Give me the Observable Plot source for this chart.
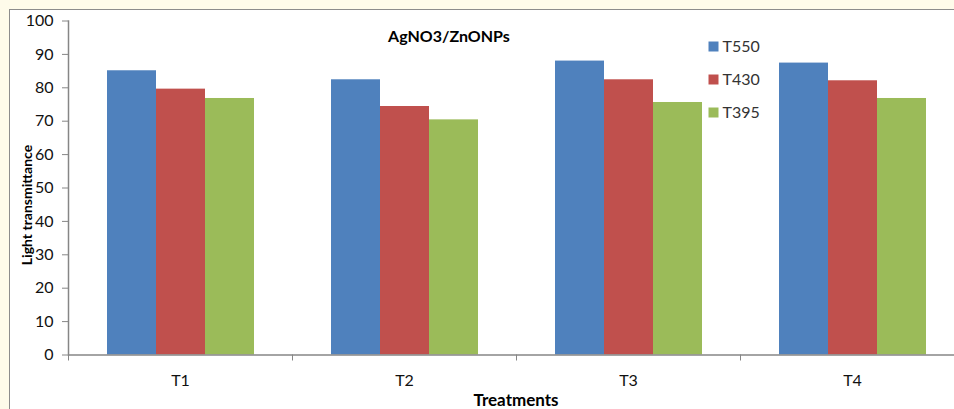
<!DOCTYPE html>
<html>
<head>
<meta charset="utf-8">
<script src="https://cdn.jsdelivr.net/npm/d3@7"></script>
<script src="https://cdn.jsdelivr.net/npm/@observablehq/plot@0.6"></script>
<style>
  html, body { margin: 0; padding: 0; background: #fefbea; }
  #page { position: relative; width: 954px; height: 409px; overflow: hidden; background: #fefbea; font-family: Lato, "Open Sans", sans-serif; }
  #panel { position: absolute; left: 9px; top: 9px; width: 1000px; height: 500px; background: #fff; border: 1px solid #8c8c8c; box-sizing: border-box; }
  #chart { position: absolute; left: 0; top: 0; width: 964px; }
  #legend { position: absolute; left: 700px; top: 0; }
  .title { position: absolute; font-weight: bold; color: #000; white-space: nowrap; }
  #title { left: 449px; top: 35px; transform: translate(-50%, -50%); font-size: 16px; }
  #xtitle { left: 516px; top: 399px; transform: translate(-50%, -50%); font-size: 17px; }
  #ytitle { left: 26px; top: 205px; transform: translate(-50%, -50%) rotate(-90deg); font-size: 14px; }
</style>
</head>
<body>
<div id="page">
  <div id="panel"></div>
  <div id="chart"></div>
  <div id="legend"></div>
  <div class="title" id="title">AgNO3/ZnONPs</div>
  <div class="title" id="xtitle">Treatments</div>
  <div class="title" id="ytitle">Light transmittance</div>
</div>
<script>
// Treatments along the x axis, wavelength series within each group
const treatments = ["T1", "T2", "T3", "T4"];
const series = ["T550", "T430", "T395"];
const seriesColors = ["#4f81bd", "#c0504d", "#9bbb59"];

// Light transmittance per series, one value per treatment
const t550 = [85.1, 82.4, 88.0, 87.4];
const t430 = [79.6, 74.4, 82.4, 82.1];
const t395 = [76.8, 70.4, 75.6, 76.8];

const yTicks = [0, 10, 20, 30, 40, 50, 60, 70, 80, 90, 100];

const valuesBySeries = {T550: t550, T430: t430, T395: t395};
const rows = treatments.flatMap((t, i) =>
  series.map(s => ({treatment: t, series: s, value: valuesBySeries[s][i]}))
);

const axisGray = "#868686";
const font = "Lato, 'Open Sans', sans-serif";

const chart = Plot.plot({
  width: 964,
  height: 409,
  marginLeft: 68,
  marginRight: 0,
  marginTop: 20.5,
  marginBottom: 54.5,
  style: {fontFamily: font, fontSize: "16px", color: "#000", background: "transparent", overflow: "visible", maxWidth: "none"},
  fx: {domain: treatments, paddingInner: 0, paddingOuter: 0, axis: null},
  x: {domain: series, paddingInner: 0, paddingOuter: 0.74, axis: null},
  y: {domain: [0, 100], axis: null},
  color: {domain: series, range: seriesColors},
  marks: [
    Plot.barY(rows, {fx: "treatment", x: "series", y: "value", fill: "series"}),
    Plot.axisY(yTicks, {anchor: "left", tickSize: 6, tickPadding: 9, stroke: axisGray, fill: "#111", label: null, fontSize: 16}),
    Plot.ruleY([0], {stroke: axisGray, strokeWidth: 1.5}),
    Plot.frame({anchor: "left", facetAnchor: "left", stroke: axisGray, strokeWidth: 1.5}),
    Plot.axisFx({anchor: "bottom", tickSize: 6, dx: -112, text: null, stroke: axisGray, label: null}),
    Plot.axisFx({anchor: "bottom", tickSize: 0, tickPadding: 20, fill: "#111", label: null, fontSize: 16})
  ]
});
document.getElementById("chart").append(chart);

// Vertical legend: colour swatch and series name
const legend = Plot.plot({
  width: 80,
  height: 130,
  marginTop: 45,
  marginBottom: 18,
  marginLeft: 8,
  marginRight: 0,
  style: {fontFamily: font, fontSize: "16px", color: "#000", background: "transparent", overflow: "visible", maxWidth: "none"},
  x: {axis: null},
  y: {type: "point", domain: series, padding: 0, axis: null},
  color: {domain: series, range: seriesColors},
  marks: [
    Plot.dot(series, {y: d => d, frameAnchor: "left", dx: 5, symbol: "square", r: 5.64, fill: d => d, stroke: null}),
    Plot.text(series, {y: d => d, frameAnchor: "left", dx: 14, textAnchor: "start", text: d => d, fill: "#333", fontSize: 16})
  ]
});
document.getElementById("legend").append(legend);
</script>
</body>
</html>
